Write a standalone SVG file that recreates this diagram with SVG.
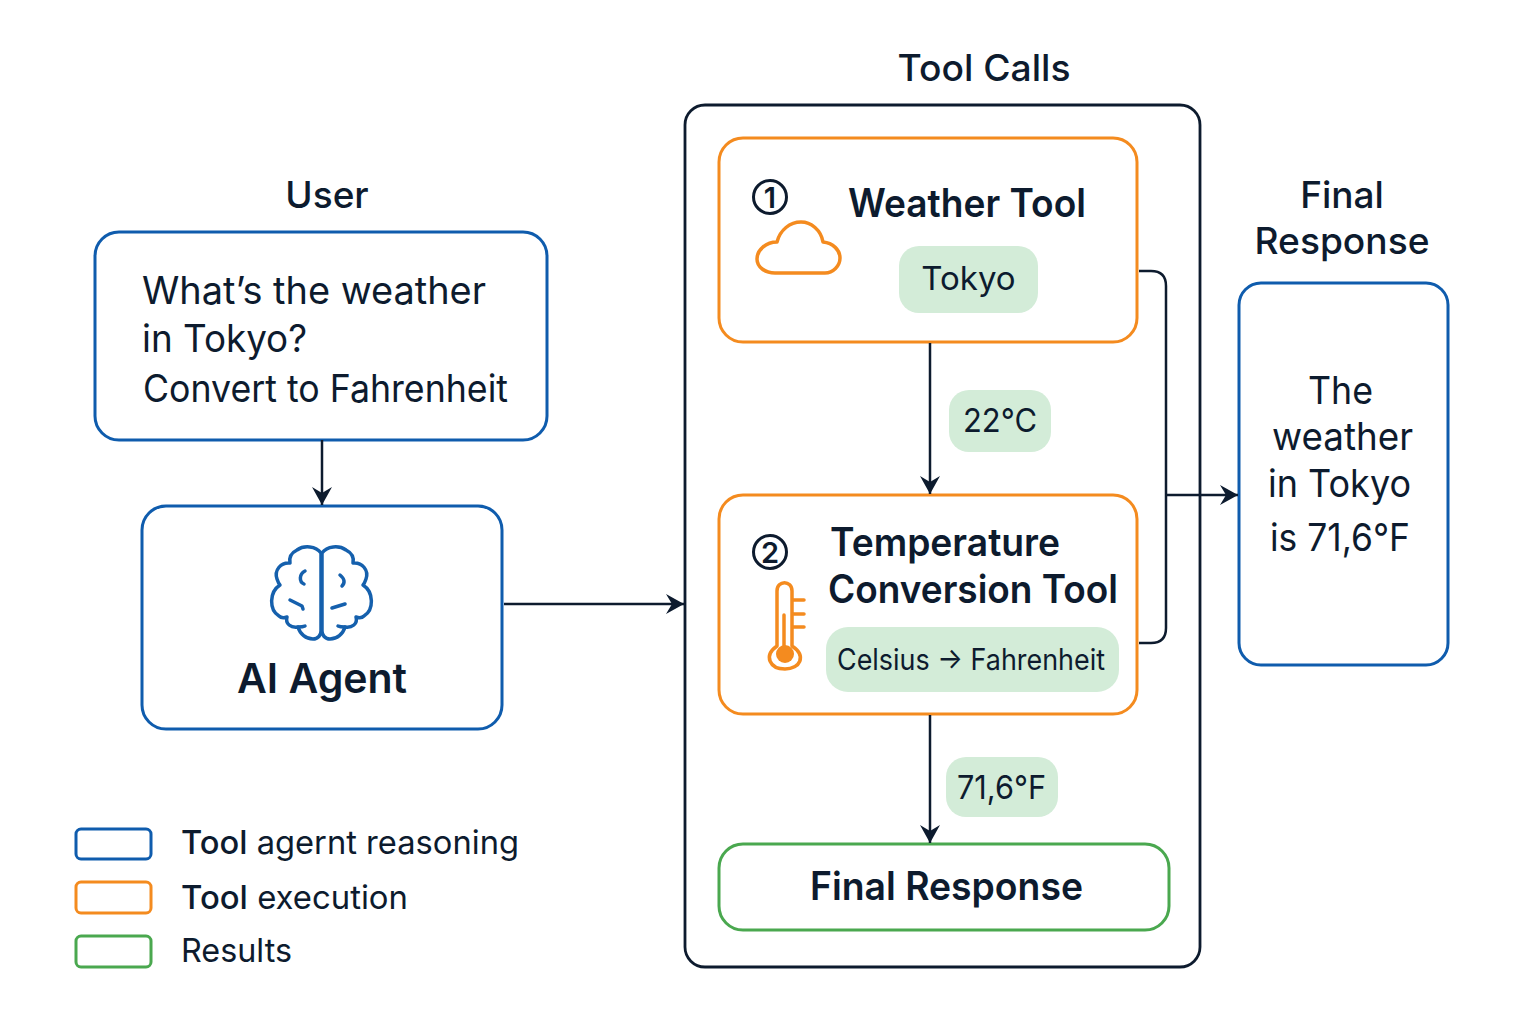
<svg xmlns="http://www.w3.org/2000/svg" width="1536" height="1024" viewBox="0 0 1536 1024">
<defs>
<marker id="arr" markerUnits="userSpaceOnUse" markerWidth="20" markerHeight="22" refX="18" refY="11" orient="auto"><path d="M0 1 L18 11 L0 21 L6 11 Z" fill="#0d1b2e"/></marker>
</defs>
<style>
text{font-family:"Inter","Liberation Sans",sans-serif;fill:#0d1b2e}
.box{fill:#fff;stroke-width:3}
.blue{stroke:#0f5cad}
.orange{stroke:#f48b1f}
.green{stroke:#4aa84f}
.pill{fill:#d3ecd8}
.ln{fill:none;stroke:#0d1b2e;stroke-width:2.5}
.ic{fill:none;stroke-width:3.5;stroke-linecap:round;stroke-linejoin:round}
.h{font-size:37px;font-weight:500;text-anchor:middle}
.t{font-size:38px}
.c{text-anchor:middle}
.l{font-size:33px}
</style>
<rect width="1536" height="1024" fill="#fff"/>
<g id="tool-calls">
<rect x="685" y="105" width="515" height="862" rx="20" fill="#fff" stroke="#0d1b2e" stroke-width="2.800"/>
<text class="h" x="984" y="81" textLength="173" lengthAdjust="spacingAndGlyphs">Tool Calls</text>
</g>
<g id="user">
<text class="h" x="327" y="208">User</text>
<rect class="box blue" x="95" y="232" width="452" height="208" rx="24"/>
<text class="t" x="142" y="304" textLength="344" lengthAdjust="spacingAndGlyphs">What’s the weather</text>
<text class="t" x="142" y="352" textLength="165" lengthAdjust="spacingAndGlyphs">in Tokyo?</text>
<text class="t" x="143" y="402" textLength="365" lengthAdjust="spacingAndGlyphs">Convert to Fahrenheit</text>
</g>
<g id="agent">
<rect class="box blue" x="142" y="506" width="360" height="223" rx="24"/>
<g class="ic" stroke="#1560ad" style="stroke:#1560ad">
<path d="M321 553 C316 546 304 545 297 550 C291 553 289 558 290 563 C281 562 274 570 277 579 C278 582 279 584 280 585 C269 592 269 610 279 616 C281 618 284 618 287 617 C285 624 291 628 298 627 C300 634 306 639 313 639 C318 639 321 635 321 631 Z"/>
<path d="M322 553 C327 546 339 545 346 550 C352 553 354 558 353 563 C362 562 369 570 366 579 C365 582 364 584 363 585 C374 592 374 610 364 616 C362 618 359 618 356 617 C358 624 352 628 345 627 C343 634 337 639 330 639 C325 639 322 635 322 631 Z"/>
<path d="M305 571 C299 574 299 582 304 584"/>
<path d="M340 575 C345 579 345 583 342 586"/>
<path d="M290 600 L302 606 L303 609"/>
<path d="M332 608 L345 604"/>
<path d="M298 627 C301 627 303 627 305 626"/>
<path d="M345 627 C342 627 340 627 338 626"/>
</g>
<text x="322" y="693" class="c" style="font-size:41px;font-weight:600">AI Agent</text>
</g>
<g id="weather">
<rect class="box orange" x="719" y="138" width="418" height="204" rx="24"/>
<circle cx="770" cy="197" r="16.500" fill="none" stroke="#0d1b2e" stroke-width="3"/>
<text x="770" y="208" class="c" style="font-size:29px;font-weight:600">1</text>
<path class="ic" style="stroke:#f48b1f" d="M775 273 H825 C833 273 840 266 840 258 C840 250 833 243 823 242 C821 230 811 222 801 222 C790 222 780 230 777 242 C766 242 757 250 757 259 C757 267 765 273 775 273 Z"/>
<text x="848" y="217" style="font-size:39px;font-weight:600" textLength="238" lengthAdjust="spacingAndGlyphs">Weather Tool</text>
<rect class="pill" x="899" y="246" width="139" height="67" rx="20"/>
<text x="968.500" y="290" class="c" style="font-size:33px">Tokyo</text>
</g>
<g id="temperature">
<rect class="box orange" x="719" y="495" width="418" height="219" rx="24"/>
<circle cx="770" cy="552" r="16.500" fill="none" stroke="#0d1b2e" stroke-width="3"/>
<text x="770" y="563" class="c" style="font-size:29px;font-weight:600">2</text>
<g class="ic" style="stroke:#f48b1f">
<path d="M777 646 V591 C777 580 792 580 792 591 V646 C807 656 800 669 785 669 C770 669 763 656 777 646 Z"/>
<path d="M784 615 V650"/>
<path d="M793 600 H804 M793 614 H804 M793 627 H804"/>
</g>
<circle cx="785" cy="654" r="9" fill="#f48b1f"/>
<text x="830" y="556" style="font-size:39px;font-weight:600" textLength="230" lengthAdjust="spacingAndGlyphs">Temperature</text>
<text x="828" y="603" style="font-size:39px;font-weight:600" textLength="290" lengthAdjust="spacingAndGlyphs">Conversion Tool</text>
<rect class="pill" x="826" y="627" width="293" height="65" rx="22"/>
<text x="837" y="670" style="font-size:29.500px" textLength="268" lengthAdjust="spacingAndGlyphs">Celsius → Fahrenheit</text>
</g>
<g id="final-inner">
<rect class="box green" x="719" y="844" width="450" height="86" rx="24"/>
<text x="810" y="900" style="font-size:39px;font-weight:600" textLength="273" lengthAdjust="spacingAndGlyphs">Final Response</text>
</g>
<g id="final">
<text class="h" x="1342" y="208">Final</text>
<text class="h" x="1342" y="254" textLength="175" lengthAdjust="spacingAndGlyphs">Response</text>
<rect class="box blue" x="1239" y="283" width="209" height="382" rx="22"/>
<text x="1308" y="404" class="t" textLength="65" lengthAdjust="spacingAndGlyphs">The</text>
<text x="1272" y="450" class="t" textLength="141" lengthAdjust="spacingAndGlyphs">weather</text>
<text x="1268" y="497" class="t" textLength="143" lengthAdjust="spacingAndGlyphs">in Tokyo</text>
<text x="1270" y="551" class="t" textLength="140" lengthAdjust="spacingAndGlyphs">is 71,6°F</text>
</g>
<g id="connectors">
<path class="ln" d="M322 440 V505" marker-end="url(#arr)"/>
<path class="ln" d="M504 604 H684" marker-end="url(#arr)"/>
<path class="ln" d="M930 343 V494" marker-end="url(#arr)"/>
<path class="ln" d="M930 715 V843" marker-end="url(#arr)"/>
<path class="ln" d="M1139 271 H1151 Q1166 271 1166 286 V628 Q1166 643 1151 643 H1139"/>
<path class="ln" d="M1166 495 H1238" marker-end="url(#arr)"/>
</g>
<g id="label-22c">
<rect class="pill" x="949" y="390" width="102" height="62" rx="20"/>
<text x="963" y="432" style="font-size:33px" textLength="74" lengthAdjust="spacingAndGlyphs">22°C</text>
</g>
<g id="label-716f">
<rect class="pill" x="946" y="757" width="112" height="60" rx="20"/>
<text x="957" y="799" style="font-size:33px" textLength="89" lengthAdjust="spacingAndGlyphs">71,6°F</text>
</g>
<g id="legend">
<rect class="box blue" x="76" y="829" width="75" height="30" rx="5"/>
<rect class="box orange" x="76" y="882" width="75" height="31" rx="5"/>
<rect class="box green" x="76" y="936" width="75" height="31" rx="5"/>
<text class="l" x="181" y="854" textLength="338" lengthAdjust="spacingAndGlyphs"><tspan font-weight="500">Tool</tspan> agernt reasoning</text>
<text class="l" x="181" y="909" textLength="227" lengthAdjust="spacingAndGlyphs"><tspan font-weight="500">Tool</tspan> execution</text>
<text class="l" x="181" y="962" textLength="111" lengthAdjust="spacingAndGlyphs">Results</text>
</g>
</svg>
